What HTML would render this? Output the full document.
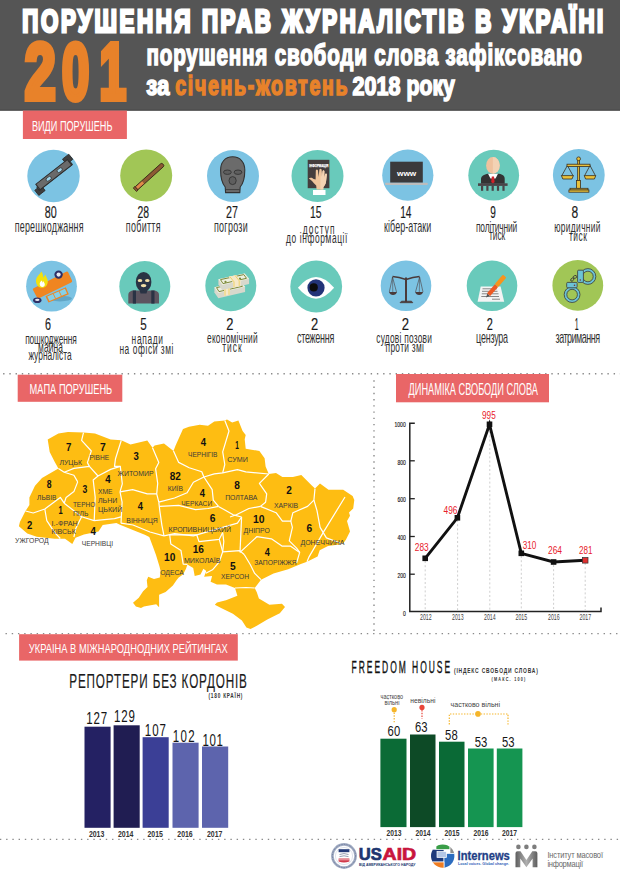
<!DOCTYPE html>
<html><head><meta charset="utf-8">
<style>
html,body{margin:0;padding:0;background:#fff;width:620px;height:877px;overflow:hidden}
svg{display:block}
text{font-family:"Liberation Sans",sans-serif}
</style></head>
<body>
<svg width="620" height="877" viewBox="0 0 620 877">
<!-- HEADER -->
<rect x="0" y="0" width="620" height="110.6" fill="#555555"/>
<rect x="0" y="109.6" width="620" height="1" fill="#474747"/>
<g font-weight="bold">
<text transform="translate(22.3,31.5) scale(0.695,1)" font-size="32.1" fill="#fff" stroke="#fff" stroke-width="3" textLength="836" lengthAdjust="spacing">ПОРУШЕННЯ ПРАВ ЖУРНАЛІСТІВ В УКРАЇНІ</text>
<g fill="#e8822a" stroke="#e8822a" stroke-width="6" font-size="78.8">
<text transform="translate(24.69,99) scale(0.706,1)">2</text>
<text transform="translate(61.93,99) scale(0.621,1)">0</text>
<text transform="translate(99.41,99) scale(0.607,1)">1</text>
</g>
<text transform="translate(146.5,65.3) scale(0.7,1)" font-size="29.5" fill="#fff" stroke="#fff" stroke-width="1.6" textLength="622" lengthAdjust="spacing">порушення свободи слова зафіксовано</text>
<text transform="translate(146.3,95.1) scale(0.8,1)" font-size="28" fill="#fff" stroke="#fff" stroke-width="1.6" textLength="29" lengthAdjust="spacingAndGlyphs">за</text>
<text transform="translate(175.3,95.1) scale(0.7,1)" font-size="28" fill="#e8822a" stroke="#e8822a" stroke-width="1.6" textLength="246" lengthAdjust="spacing">січень-жовтень</text>
<text transform="translate(352.6,95.1) scale(0.8,1)" font-size="25.9" fill="#fff" stroke="#fff" stroke-width="1.6" textLength="59.7" lengthAdjust="spacingAndGlyphs">2018</text>
<text transform="translate(406.5,95.1) scale(0.75,1)" font-size="28" fill="#fff" stroke="#fff" stroke-width="1.6" textLength="64.5" lengthAdjust="spacingAndGlyphs">року</text>
</g>

<!-- SECTION LABEL 1 -->
<rect x="22.9" y="110.6" width="104" height="28.4" fill="#e96667"/>
<text x="31.9" y="130.8" font-size="14" fill="#fff" textLength="80.5" lengthAdjust="spacingAndGlyphs">ВИДИ ПОРУШЕНЬ</text>

<!-- ICON CIRCLES -->
<circle cx="53.5" cy="176" r="26.2" fill="#7cc3e3"/>
<circle cx="146.2" cy="175.5" r="26" fill="#a1c656"/>
<circle cx="233" cy="176" r="26" fill="#7cc3e3"/>
<circle cx="317.5" cy="176" r="26" fill="#69cabb"/>
<circle cx="407.8" cy="175.2" r="25.6" fill="#7cc3e3"/>
<circle cx="493.7" cy="175.2" r="25.4" fill="#69cabb"/>
<circle cx="578.8" cy="175" r="25.9" fill="#7cc3e3"/>

<circle cx="51.5" cy="286.2" r="25.4" fill="#7cc3e3"/>
<circle cx="144.8" cy="286.5" r="25.5" fill="#69cabb"/>
<circle cx="230.8" cy="285.8" r="25.5" fill="#69cabb"/>
<circle cx="316.2" cy="286.5" r="25.9" fill="#69cabb"/>
<circle cx="406" cy="285.8" r="25.3" fill="#7cc3e3"/>
<circle cx="492" cy="285.8" r="25.3" fill="#69cabb"/>
<circle cx="577.8" cy="285.4" r="25.4" fill="#a1c656"/>

<!-- ICON NUMBERS -->
<g font-size="15.6" fill="#1a1a1a" stroke="#1a1a1a" stroke-width="0.15">
<text x="44.8" y="218" textLength="12" lengthAdjust="spacingAndGlyphs">80</text>
<text x="137.4" y="218" textLength="11.6" lengthAdjust="spacingAndGlyphs">28</text>
<text x="226.1" y="218" textLength="11.9" lengthAdjust="spacingAndGlyphs">27</text>
<text x="310" y="218" textLength="11.6" lengthAdjust="spacingAndGlyphs">15</text>
<text x="400.2" y="218" textLength="11.3" lengthAdjust="spacingAndGlyphs">14</text>
<text x="490.3" y="218" textLength="5.6" lengthAdjust="spacingAndGlyphs">9</text>
<text x="571.5" y="218" textLength="6.7" lengthAdjust="spacingAndGlyphs">8</text>

<text x="45" y="329.8" textLength="6" lengthAdjust="spacingAndGlyphs">6</text>
<text x="140.3" y="329.8" textLength="6.5" lengthAdjust="spacingAndGlyphs">5</text>
<text x="226.3" y="329.8" textLength="7.2" lengthAdjust="spacingAndGlyphs">2</text>
<text x="311" y="329.8" textLength="7.2" lengthAdjust="spacingAndGlyphs">2</text>
<text x="401.7" y="329.8" textLength="7.3" lengthAdjust="spacingAndGlyphs">2</text>
<text x="486.7" y="329.8" textLength="6.1" lengthAdjust="spacingAndGlyphs">2</text>
<text x="574.7" y="329.8" textLength="3.9" lengthAdjust="spacingAndGlyphs">1</text>
</g>

<!-- ICON LABELS -->
<g font-size="16" fill="#303030">
<text transform="translate(14.8,232.0) scale(0.56,1)" textLength="122.7" lengthAdjust="spacing">перешкоджання</text>
<text transform="translate(125.8,232.0) scale(0.56,1)" textLength="62.1" lengthAdjust="spacing">побиття</text>
<text transform="translate(214.0,232.3) scale(0.56,1)" textLength="60.2" lengthAdjust="spacing">погрози</text>
<text transform="translate(302.8,233.5) scale(0.56,1)" font-size="15" textLength="56.6" lengthAdjust="spacing">доступ</text>
<text transform="translate(286.0,242.5) scale(0.56,1)" font-size="15" textLength="109.7" lengthAdjust="spacing">до інформації</text>
<text transform="translate(384.0,232.3) scale(0.56,1)" textLength="84.5" lengthAdjust="spacing">кібер-атаки</text>
<text transform="translate(476.0,231.5) scale(0.56,1)" font-size="15" textLength="73.7" lengthAdjust="spacing">політичний</text>
<text transform="translate(489.0,240.0) scale(0.56,1)" font-size="15" textLength="29.0" lengthAdjust="spacing">тиск</text>
<text transform="translate(554.2,231.5) scale(0.56,1)" font-size="15" textLength="82.8" lengthAdjust="spacing">юридичний</text>
<text transform="translate(569.0,240.5) scale(0.56,1)" font-size="15" textLength="32.1" lengthAdjust="spacing">тиск</text>

<text transform="translate(25.2,343.5) scale(0.56,1)" font-size="15" textLength="92.1" lengthAdjust="spacing">пошкодження</text>
<text transform="translate(38.0,352.0) scale(0.56,1)" font-size="15" textLength="44.7" lengthAdjust="spacing">майна</text>
<text transform="translate(28.4,360.0) scale(0.56,1)" font-size="15" textLength="77.2" lengthAdjust="spacing">журналіста</text>
<text transform="translate(131.6,343.5) scale(0.56,1)" font-size="15" textLength="56.1" lengthAdjust="spacing">напади</text>
<text transform="translate(119.4,353.5) scale(0.56,1)" font-size="15" textLength="96.6" lengthAdjust="spacing">на офіси змі</text>
<text transform="translate(207.0,343.0) scale(0.56,1)" font-size="15" textLength="90.5" lengthAdjust="spacing">економічний</text>
<text transform="translate(222.3,352.0) scale(0.56,1)" font-size="15" textLength="34.5" lengthAdjust="spacing">тиск</text>
<text transform="translate(296.9,343.0) scale(0.56,1)" textLength="66.9" lengthAdjust="spacing">стеження</text>
<text transform="translate(376.3,343.0) scale(0.56,1)" font-size="15" textLength="99.4" lengthAdjust="spacing">судові позови</text>
<text transform="translate(385.6,352.0) scale(0.56,1)" font-size="15" textLength="68.4" lengthAdjust="spacing">проти змі</text>
<text transform="translate(476.1,343.0) scale(0.56,1)" textLength="57.1" lengthAdjust="spacing">цензура</text>
<text transform="translate(555.6,342.5) scale(0.56,1)" textLength="79.3" lengthAdjust="spacing">затримання</text>
</g>

<!-- ICONS -->
<!-- ICON 1: obstacle bar -->
<g transform="translate(53.8,174.8) rotate(-38)">
<rect x="-24.5" y="0.5" width="8" height="6.5" fill="#3e3e3e" stroke="#2a2a2a" stroke-width="0.8"/>
<rect x="16.5" y="-7" width="8" height="6.5" fill="#3e3e3e" stroke="#2a2a2a" stroke-width="0.8"/>
<path d="M-21,-0.5 L-14,-3.2 L14,-3.2 L21,-0.5 L21,3.2 L14,3.2 L-14,3.2 L-21,3.2 Z" fill="#6a6a6a" stroke="#2e2e2e" stroke-width="1"/>
<rect x="-20" y="-3.6" width="40" height="7" fill="#6a6a6a" stroke="#2e2e2e" stroke-width="1"/>
<ellipse cx="-6.5" cy="0" rx="3" ry="1.8" fill="#9fd4ea" stroke="#2e2e2e" stroke-width="0.7"/>
<ellipse cx="7.5" cy="0" rx="3" ry="1.8" fill="#9fd4ea" stroke="#2e2e2e" stroke-width="0.7"/>
</g>
<!-- ICON 2: bat -->
<g transform="translate(149,177) rotate(-42)">
<rect x="-18" y="-2" width="37" height="4" rx="1.6" fill="#8d5a33" stroke="#3a2a1a" stroke-width="0.9"/>
<rect x="-16.5" y="-1.4" width="8.5" height="2.8" fill="#e08a4a"/>
<rect x="-19" y="-2.4" width="2.2" height="4.8" fill="#8d5a33" stroke="#3a2a1a" stroke-width="0.8"/>
</g>
<!-- ICON 3: mask -->
<g stroke="#333" stroke-linejoin="round">
<path d="M232.6,156.8 C224.5,156.8 220.6,163 220.6,170 C220.6,178 221.8,183 225.2,187 L225.6,192.6 L239.8,192.6 L240.2,187 C243.6,183 244.8,178 244.8,170 C244.8,163 240.7,156.8 232.6,156.8 Z" fill="#6b6b6b" stroke-width="1.1"/>
<path d="M225.8,189.6 L239.6,189.6" stroke-width="0.8" fill="none"/>
<ellipse cx="227.4" cy="172.2" rx="3.9" ry="2.2" fill="#5e5e5e" stroke-width="0.9"/>
<ellipse cx="238" cy="172.2" rx="3.9" ry="2.2" fill="#5e5e5e" stroke-width="0.9"/>
<ellipse cx="232.6" cy="180.6" rx="3.6" ry="4" fill="#5e5e5e" stroke-width="0.9"/>
</g>
<!-- ICON 4: book + hand -->
<g>
<rect x="307.7" y="159.8" width="21.7" height="28.4" fill="#453d3d"/>
<text x="309.3" y="166.6" font-size="4" font-weight="bold" fill="#fff" stroke="#fff" stroke-width="0.25" textLength="19" lengthAdjust="spacingAndGlyphs">ІНФОРМАЦІЯ</text>
<path d="M316.6,189.5 L316.2,185.5 C314.5,184 313.2,182.6 312,181 C310.8,179.6 309.6,179 308.8,178.4 C309.6,177.6 311.2,177.4 312.6,178.2 L313.6,179 L315.6,179.6 L315.8,170.4 Q316.9,168.6 318,170.4 L318.6,177 L319.4,169.6 Q320.5,167.8 321.6,169.6 L321.8,177 L322.6,171 Q323.5,169.4 324.4,171 L324.3,177.8 L325.1,174.2 Q326,172.8 326.9,174.2 L326,182 C325.6,184.5 324.2,186 323.4,187 L323.3,189.5 Z" fill="#efc49c"/>
<path d="M320.5,189.5 L320.5,177.5 L321.6,169.6 Q320.5,167.8 321.6,169.6 L321.8,177 L322.6,171 Q323.5,169.4 324.4,171 L324.3,177.8 L325.1,174.2 Q326,172.8 326.9,174.2 L326,182 C325.6,184.5 324.2,186 323.4,187 L323.3,189.5 Z" fill="#f4d3b3"/>
<rect x="313" y="190" width="12.5" height="5" fill="#fff"/>
</g>
<!-- ICON 5: laptop -->
<g>
<rect x="390.2" y="161.7" width="32.6" height="21" fill="#3a3a3c"/>
<rect x="385" y="182.8" width="42.9" height="2.3" rx="1" fill="#bcbcbc"/>
<text x="397" y="176.1" font-size="7.2" font-weight="bold" fill="#fff" textLength="19.3" lengthAdjust="spacingAndGlyphs">www</text>
</g>
<!-- ICON 6: politician -->
<g>
<path d="M481,183.8 L481,179 C481,176 484,174.5 488,173.8 L499,173.8 C503,174.5 504.7,176 504.7,179 L504.7,183.8 Z" fill="#333"/>
<path d="M488,173.8 L498,173.8 L495.5,178.5 L490.5,178.5 Z" fill="#fff"/>
<path d="M491.8,176.5 L494,176.5 L494.6,182 L492.9,183.8 L491.2,182 Z" fill="#d3222a"/>
<ellipse cx="492.9" cy="165.4" rx="6.8" ry="8.3" fill="#efc29e"/>
<path d="M492.9,157.1 A6.8,8.3 0 0 1 492.9,173.7 Z" fill="#f3d2b4"/>
<rect x="478" y="183.3" width="29.6" height="2.6" fill="#4a4448"/>
<rect x="481" y="185.8" width="2.2" height="5" fill="#4a4448"/>
<rect x="486.3" y="185.8" width="2.2" height="5" fill="#4a4448"/>
<rect x="491.6" y="185.8" width="2.2" height="5" fill="#4a4448"/>
<rect x="496.9" y="185.8" width="2.2" height="5" fill="#4a4448"/>
<rect x="502.4" y="185.8" width="2.2" height="5" fill="#4a4448"/>
</g>
<!-- ICON 7: gold scales -->
<g stroke="#3a3020" stroke-width="0.8">
<line x1="567.4" y1="165.5" x2="561.6" y2="176" fill="none"/>
<line x1="567.4" y1="165.5" x2="573.2" y2="176" fill="none"/>
<line x1="590" y1="165.5" x2="584.4" y2="176" fill="none"/>
<line x1="590" y1="165.5" x2="595.6" y2="176" fill="none"/>
<rect x="577.7" y="160" width="1.9" height="21" fill="#e9c13a"/>
<circle cx="578.6" cy="158.8" r="1.9" fill="#e9c13a"/>
<rect x="567" y="164.2" width="23" height="2.3" fill="#e9c13a"/>
<path d="M561.4,175.6 L573.4,175.6 L572,179 L562.8,179 Z" fill="#e9c13a"/>
<path d="M584.2,175.6 L595.8,175.6 L594.4,179 L585.6,179 Z" fill="#e9c13a"/>
<rect x="576.6" y="180.4" width="4" height="8" fill="#e9c13a"/>
<rect x="570" y="188.3" width="18" height="1.8" fill="#e9c13a"/>
<rect x="568.9" y="190" width="20" height="2.2" fill="#e9c13a"/>
</g>

<!-- ROW 2 -->
<!-- ICON 8: car -->
<g>
<ellipse cx="60" cy="298.6" rx="12" ry="2.8" fill="#62a6c6"/>
<path d="M45.5,296.2 L65.8,287.2 L68.8,294.2 L48.5,302.6 Z" fill="#f08521"/>
<path d="M47.3,296.6 L64.9,288.8 L67.1,293.6 L49.5,301 Z" fill="#86d0e8"/>
<line x1="53.2" y1="293.6" x2="55.6" y2="298.7" stroke="#f08521" stroke-width="0.9"/>
<line x1="59" y1="291" x2="61.4" y2="296.2" stroke="#f08521" stroke-width="0.9"/>
<path d="M33.6,288.2 L66.2,271.8 Q67.6,271.2 68.3,272.5 L72,280.4 Q72.6,281.8 71.2,282.5 L39,298.2 Q37.6,298.8 37,297.5 L32.9,289.8 Q32.4,288.8 33.6,288.2 Z" fill="#f08521"/>
<circle cx="58.6" cy="274.6" r="4.2" fill="#2e2f66"/>
<circle cx="58.6" cy="274.6" r="2.1" fill="#e8e8f0"/>
<ellipse cx="37.3" cy="300.3" rx="4.2" ry="2.8" fill="#2e2f66"/>
<ellipse cx="37.3" cy="299.9" rx="2.2" ry="1.1" fill="#e8e8f0"/>
<path d="M41.6,271.5 C39,275 35.8,277 36,281.5 C36.2,285.2 38.8,287.8 42,287.8 C45.6,287.8 47.8,284.8 47.8,281.5 C47.8,278 45.8,277 45.6,274.5 C44.2,276 43.6,277 43.1,277.5 C43.1,275 42.6,273.5 41.6,271.5 Z" fill="#f2e10e"/>
<path d="M41.8,280.5 C40,282 39.5,283 39.8,284.8 C40.2,286.3 41.2,287 42.3,287 C43.8,287 44.8,285.8 44.8,284.5 C44.8,283 43.8,282.5 43.5,281 C43,282 42.8,282.5 42.6,282.8 C42.5,281.8 42.2,281 41.8,280.5 Z" fill="#fff"/>
</g>
<!-- ICON 9: robber -->
<g>
<path d="M128.3,303.6 L128.3,295 C128.3,292 130.5,290.5 134,290.5 L153.3,290.5 C156.8,290.5 159,292 159,295 L159,303.6 Z" fill="#5d5560"/>
<rect x="132.8" y="290.5" width="3.2" height="13.1" fill="#2a3344"/>
<rect x="151.3" y="290.5" width="3.2" height="13.1" fill="#2a3344"/>
<path d="M139,288 L148,288 L146.5,293.5 L140.5,293.5 Z" fill="#2a3344"/>
<ellipse cx="143.6" cy="281.9" rx="7.8" ry="10" fill="#2a3344"/>
<ellipse cx="140" cy="280.6" rx="2.3" ry="1.5" fill="#f4e0a8"/>
<ellipse cx="147.3" cy="280.6" rx="2.3" ry="1.5" fill="#f4e0a8"/>
<ellipse cx="143.6" cy="285.6" rx="2.8" ry="1.6" fill="#f4e0a8"/>
</g>
<!-- ICON 10: money -->
<g>
<path d="M214.4,287.2 L240.6,281.4 L245.1,286.8 L245.1,292 L218.4,298.3 L214.4,292.5 Z" fill="#d8d8cc"/>
<path d="M214.4,287.2 L240.6,281.4 L245.1,286.8 L218.4,293.1 Z" fill="#eef0e0"/>
<path d="M216.5,287.6 L239.8,282.6 L242.5,286.3 L219,291.6 Z" fill="none" stroke="#7d8a3a" stroke-width="1"/>
<path d="M218.4,279.2 L244.6,273.4 L249.1,278.8 L249.1,284 L222.4,290.3 L218.4,284.5 Z" fill="#d8d8cc"/>
<path d="M218.4,279.2 L244.6,273.4 L249.1,278.8 L222.4,285.1 Z" fill="#eef0e0"/>
<path d="M220.5,279.6 L243.8,274.6 L246.5,278.3 L223,283.6 Z" fill="none" stroke="#7d8a3a" stroke-width="1"/>
<path d="M228.5,276.8 L236,275.2 L240.5,280.6 L233,282.4 L233,287.6 L240.5,285.8 L240.5,280.6 Z" fill="#f6e8c8"/>
<path d="M228.5,276.8 L236,275.2 L240.5,280.6 L240.5,285.8 L233,287.6 L233,282.4 Z" fill="#f6e8c8"/>
<path d="M229.8,276.6 L234,281.8 L234,287.3 M235,275.4 L239.2,280.8 L239.2,286" stroke="#ecd060" stroke-width="0.9" fill="none"/>
<path d="M224,289.5 L230,288.2 L230,294.6 L224,296 Z" fill="#f6e8c8"/>
<path d="M225,289.3 L225,295.7 M229,288.4 L229,294.8" stroke="#ecd060" stroke-width="0.9"/>
<circle cx="240" cy="278.6" r="1.1" fill="#7d8a3a"/>
<circle cx="225.5" cy="281.8" r="1.1" fill="#7d8a3a"/>
</g>
<!-- ICON 11: eye -->
<g>
<path d="M297.9,287.8 Q316,266 334.1,287.8 Q316,309.5 297.9,287.8 Z" fill="#fff"/>
<circle cx="316" cy="287.8" r="8.6" fill="#233478"/>
<circle cx="313.7" cy="287.4" r="4.1" fill="#0c0c0c"/>
</g>
<!-- ICON 12: dark scales -->
<g stroke="#4a3a3a" fill="none">
<path d="M392.5,276.5 Q399,277 406,279.4 Q413,277 419.6,276.5" stroke-width="1.6"/>
<line x1="406" y1="277.5" x2="406" y2="302" stroke-width="2"/>
<line x1="392.5" y1="277" x2="389.3" y2="292" stroke-width="0.6"/>
<line x1="392.5" y1="277" x2="396.5" y2="292" stroke-width="0.6"/>
<line x1="392.5" y1="277" x2="392.8" y2="292" stroke-width="0.5"/>
<line x1="419.6" y1="277" x2="415.5" y2="292" stroke-width="0.6"/>
<line x1="419.6" y1="277" x2="423" y2="292" stroke-width="0.6"/>
<line x1="419.6" y1="277" x2="419.3" y2="292" stroke-width="0.5"/>
<path d="M389,292 L397,292 Q396,295 393,295 Q390,295 389,292 Z" fill="#4a3a3a" stroke="none"/>
<path d="M415.1,292 L423.1,292 Q422.1,295 419.1,295 Q416.1,295 415.1,292 Z" fill="#4a3a3a" stroke="none"/>
<path d="M400,302.7 L401.5,301.2 L411.5,301.2 L412.8,302.7 Z" fill="#4a3a3a" stroke="#4a3a3a" stroke-width="0.8"/>
</g>
<!-- ICON 13: paper + pen -->
<g>
<path d="M480.7,286.5 L500.6,286.5 L504.2,301.8 L477.6,301.8 Z" fill="#f4f4f4"/>
<g stroke="#7a7a7a" stroke-width="0.9">
<line x1="482.5" y1="288.8" x2="497" y2="288.8"/>
<line x1="482" y1="291.3" x2="497.5" y2="291.3"/>
<line x1="481.8" y1="293.8" x2="498.5" y2="293.8"/>
<line x1="481.3" y1="296.5" x2="499" y2="296.5"/>
<line x1="492" y1="299.2" x2="500" y2="299.2"/>
</g>
<g transform="translate(486,297.6) rotate(-49)">
<path d="M0,0 L4,-1.6 L4,1.6 Z" fill="#555"/>
<rect x="4" y="-2.1" width="12" height="4.2" fill="#ee5a24"/>
<rect x="16" y="-2.3" width="12.5" height="4.6" rx="1" fill="#f7941d"/>
</g>
</g>
<!-- ICON 14: handcuffs -->
<g stroke="#3a3a3a" stroke-width="0.8">
<ellipse cx="572.2" cy="279.6" rx="1.3" ry="1.8" transform="rotate(40 572.2 279.6)" fill="none" stroke-width="0.9"/>
<ellipse cx="575" cy="276.9" rx="1.9" ry="1.3" transform="rotate(-20 575 276.9)" fill="none" stroke-width="0.9"/>
<circle cx="572.1" cy="294.6" r="6.6" fill="none" stroke="#6cc3d6" stroke-width="2.6"/>
<circle cx="572.1" cy="294.6" r="7.9" fill="none"/>
<circle cx="572.1" cy="294.6" r="5.3" fill="none"/>
<rect x="566.7" y="282.4" width="10.4" height="5.4" rx="1" fill="#6cc3d6"/>
<circle cx="587.9" cy="276.5" r="6.6" fill="none" stroke="#6cc3d6" stroke-width="2.6"/>
<circle cx="587.9" cy="276.5" r="7.9" fill="none"/>
<circle cx="587.9" cy="276.5" r="5.3" fill="none"/>
<rect x="577.6" y="270.2" width="5.8" height="12.2" rx="1" fill="#6cc3d6"/>
<circle cx="574.5" cy="285.2" r="0.8" fill="#7a3030" stroke="none"/>
<circle cx="580.3" cy="280" r="0.8" fill="#7a3030" stroke="none"/>
</g>


<!-- DOTTED LINES -->
<g stroke="#8a8a8a" stroke-width="1.4" stroke-dasharray="1.4 4.83">
<line x1="3.1" y1="373.8" x2="620" y2="373.8"/>
<line x1="374" y1="380.3" x2="374" y2="632"/>
<line x1="5.5" y1="633.6" x2="620" y2="633.6"/>
<line x1="-0.1" y1="839.4" x2="620" y2="839.4"/>
</g>

<!-- SECTION LABEL 2 -->
<rect x="17.7" y="374.7" width="104.6" height="27.1" fill="#e96667"/>
<text x="29.6" y="393.8" font-size="14.2" fill="#fff" textLength="82.6" lengthAdjust="spacingAndGlyphs">МАПА ПОРУШЕНЬ</text>
<rect x="396" y="374" width="153" height="28.3" fill="#e96667"/>
<text x="408.6" y="394.6" font-size="16.7" fill="#fff" textLength="129.4" lengthAdjust="spacingAndGlyphs">ДИНАМІКА СВОБОДИ СЛОВА</text>

<!-- MAP -->
<g>
<path fill="#febd12" d="M47.7,439.4 L58.4,433.5 L68,432 L83.5,432.6 L95,433.5 L110.6,439.4 L121.3,440.3 L130.5,444.6 L147.3,440.4 L152.5,447.7 L154.6,445.6 L164,443.5 L173.5,451 L175.6,445.6 L183,428.9 L189,426.8 L199.7,424.7 L208,425.7 L214.3,421.5 L224.8,420.5 L227,419.4 L232.2,422.6 L238.4,420.5 L242.6,431 L245.7,435 L244.7,439.3 L245.7,448.8 L259.4,450.9 L264.6,458.2 L265.6,466.6 L268.8,474 L276,472.9 L282.4,477 L292.9,477 L301.3,475 L311.8,485.5 L315,488.6 L320,483.4 L328.5,489.7 L343.2,489.7 L352.6,496 L354.3,500 L353.2,508.4 L349,512.6 L350,515.7 L347,521 L350,531.4 L345.9,539.8 L342.7,544 L328,546 L319.7,550.3 L317.6,556.6 L307,561.8 L300.8,564 L288.2,569.2 L273.5,573.4 L261,579.7 L257.8,583.9 L254.7,588 L256.8,592.2 L258.9,598.5 L269.4,604.8 L282,603.8 L285,607 L279.8,613.2 L267.3,619.5 L256.8,625.8 L250.5,629 L246.4,627.4 L241.9,620.6 L232.9,613.8 L221.6,608.2 L214.8,604.8 L217,602.6 L226,600.3 L237.4,595.8 L235,588 L226,584.5 L217,584.5 L210.6,581.8 L212.1,576 L204.1,576.7 L206.3,570.9 L203.4,568.7 L200.5,574.5 L194.7,576 L193.2,568 L187.4,564.4 L186,568.7 L183,574.5 L178.7,577.4 L176.5,580.3 L172.9,585.4 L165.6,591.9 L159.1,594.8 L159.1,607.2 L156.2,604.3 L143.9,606.5 L141,607.9 L135.9,606.5 L133,602.8 L138.8,597.7 L143.1,591.2 L147.5,586.9 L146.8,580.3 L148.2,576.7 L154,578.9 L159.8,577.4 L160.6,571 L159.5,566.4 L156,555 L152.7,546 L149.3,537 L144.8,534.8 L133.5,530.3 L120,524.7 L116.4,523 L102.7,525 L98.5,531.4 L83.9,534.6 L75.5,537.7 L72.3,544 L65,538.8 L54.5,538.8 L36.7,536.7 L27.3,533.5 L18.9,526.2 L19.9,522 L25.5,511 L29.4,505 L29.4,497.4 L35,485.8 L42,478 L58.4,468.4 L54.5,461.6 L49.7,452 Z"/>
<g fill="none" stroke="#fff" stroke-width="1.2" stroke-linejoin="round">
<!-- Volyn/Rivne -->
<path d="M83.5,432.6 L81.6,440.3 L91.3,451 L87.4,462.6 L89.4,466.4"/>
<!-- Volyn/Lviv + Rivne south -->
<path d="M58.4,468.4 L64.2,472.3 L73.9,475.2 L77.7,481.9"/>
<path d="M64.2,472.3 L73.9,468.4 L89.4,466.4 L98,476 L110.6,469.4 L120.3,466.4"/>
<!-- Rivne/Zhytomyr -->
<path d="M121.3,440.3 L115.5,458.7 L114.5,466.4 L120.3,466.4 L122.3,483.9 L120,491.8"/>
<!-- Lviv/Ternopil -->
<path d="M77.7,481.9 L73.9,491.6 L66.1,497.4 L64.2,503.2"/>
<!-- Ternopil/Khmelnytskyi -->
<path d="M98,476 L93.2,480 L95.2,497.4 L94.2,520.6"/>
<!-- Lviv/IF & Zakarpattia -->
<path d="M25.5,511 L33.2,513 L44.8,509 L60.3,497.4 L64.2,503.2"/>
<path d="M44.8,509 L46.8,520.6 L54.5,532.3 L60.3,538.5"/>
<!-- IF/Ternopil/Chernivtsi -->
<path d="M64.2,503.2 L81.6,516.8 L75.8,528.4 L73.9,537"/>
<path d="M81.6,516.8 L94.2,520.6 L114.5,518.7 L121,516.8"/>
<!-- Khmelnytskyi/Vinnytsia -->
<path d="M120,491.8 L122.1,502.2 L121,523.2"/>
<!-- Zhytomyr/Kyiv -->
<path d="M152.5,447.7 L158.8,462.4 L155.6,468.7 L157.7,483.4 L156.7,493.9 L158.8,502.2"/>
<!-- Zhytomyr/Vinnytsia -->
<path d="M120,491.8 L132.6,489.7 L147.3,493.9 L156.7,493.9"/>
<!-- Kyiv/Chernihiv -->
<path d="M173.5,451 L178.7,462.4 L189.2,467.7 L201.8,471.8 L203.9,477"/>
<!-- Chernihiv/Sumy -->
<path d="M224.8,420.5 L229,431 L222.7,451.9 L224.8,464.5 L222.7,472.9"/>
<!-- Chernihiv/Poltava, Sumy/Poltava -->
<path d="M203.9,477 L214.3,473.9 L222.7,472.9 L237.4,469.7 L245.8,471.8 L268.8,474"/>
<!-- Kyiv/Cherkasy -->
<path d="M158.8,502.2 L174.5,498 L187.1,492.8 L193.4,482.3 L203.9,477"/>
<!-- Cherkasy/Poltava -->
<path d="M203.9,477 L212.2,489.7 L213.3,500.1 L218.5,506.4"/>
<!-- Vinnytsia east -->
<path d="M158.8,502.2 L159.8,510.6 L161.9,525.3 L164,535.8"/>
<!-- Cherkasy/Kirovohrad -->
<path d="M159.8,506.4 L178.7,505.4 L195.5,509.6 L208,508.5 L218.5,506.4"/>
<!-- Kirovohrad/Poltava-Dnipro -->
<path d="M218.5,506.4 L233.2,514.8 L241.6,517"/>
<!-- Vinnytsia/Odesa -->
<path d="M121,523.2 L133,525 L150,532 L164,535.8"/>
<!-- Kirovohrad south -->
<path d="M164,535.8 L174.5,533.7 L193.4,535.8 L208,531.6 L222.7,527.4 L237.4,523.2 L241.6,517"/>
<!-- Poltava/Kharkiv -->
<path d="M268.8,474 L259.4,483.4 L266.7,493.9 L265.6,502.2 L260.4,506.4"/>
<!-- Poltava/Dnipro -->
<path d="M260.4,506.4 L248.9,508.5 L236.3,514.8 L230,517"/>
<!-- Kharkiv/Donetsk-Luhansk -->
<path d="M315,488.6 L313.9,500.1 L307.6,506.4 L292.9,512.7 L290.8,521.1"/>
<!-- Kharkiv/Dnipro -->
<path d="M260.4,506.4 L276.1,512.7 L282.4,521.1 L290.8,521.1 L292.4,527.3 L289.3,540.9 L296.6,548.2 L299.7,552.4"/>
<!-- Donetsk/Luhansk -->
<path d="M313.9,500.1 L317,510.6 L320.1,527.4 L326.4,537.9 L342.7,544"/>
<!-- contact line -->
<path d="M345,497 L323.9,531.4 L309.2,556.6 L307,561.8"/>
<!-- Dnipro/Zaporizhzhia -->
<path d="M240,552.4 L256.8,536.7 L271.4,538.8 L281.9,546.1 L290.3,546.1 L299.7,552.4 L296.6,562.9"/>
<!-- Zaporizhzhia/Kherson -->
<path d="M244.2,554.5 L250.5,565 L254.7,573.4 L261,579.7"/>
<!-- Kherson/Crimea -->
<path d="M235,588 L246,587.5 L254.7,588"/>
<!-- Odesa/Mykolaiv -->
<path d="M169.7,534.8 L170.8,543.9 L181,550.6 L183.2,564.2 L187.4,564.4"/>
<!-- Mykolaiv/Kirovohrad -->
<path d="M169.7,534.8 L196.7,534.8 L199,541.6 L219.3,539.3 L222.7,532.6"/>
<!-- Mykolaiv/Kherson -->
<path d="M219.3,539.3 L222.7,551.8 L219.3,561.9 L212.5,569.8 L205.8,573.2"/>
<!-- Dnipro/Kherson -->
<path d="M222.7,551.8 L239.6,550.6 L244.2,554.5"/>
<path d="M222.7,532.6 L223.8,541.6 L222.7,551.8"/>
<path d="M241.6,517 L240,552.4"/>
</g>
<!-- map numbers -->
<g font-weight="bold" font-size="10.7" fill="#111">
<text x="66.1" y="451.4" textLength="5.4" lengthAdjust="spacingAndGlyphs">7</text>
<text x="100" y="451.4" textLength="5.8" lengthAdjust="spacingAndGlyphs">7</text>
<text x="46.8" y="487.7" textLength="4.8" lengthAdjust="spacingAndGlyphs">8</text>
<text x="82.6" y="493.2" textLength="4.8" lengthAdjust="spacingAndGlyphs">3</text>
<text x="105.2" y="482.9" textLength="5.4" lengthAdjust="spacingAndGlyphs">4</text>
<text x="58.4" y="513.9" textLength="4.2" lengthAdjust="spacingAndGlyphs">1</text>
<text x="27" y="528.8" textLength="5.3" lengthAdjust="spacingAndGlyphs">2</text>
<text x="90.6" y="534.6" textLength="5.4" lengthAdjust="spacingAndGlyphs">4</text>
<text x="133.6" y="459.9" textLength="5.3" lengthAdjust="spacingAndGlyphs">3</text>
<text x="169.7" y="480.2" textLength="11.1" lengthAdjust="spacingAndGlyphs">82</text>
<text x="200.7" y="445.6" textLength="5.3" lengthAdjust="spacingAndGlyphs">4</text>
<text x="235.3" y="448.8" textLength="3.6" lengthAdjust="spacingAndGlyphs">1</text>
<text x="137.8" y="509.6" textLength="5.2" lengthAdjust="spacingAndGlyphs">4</text>
<text x="199.7" y="497" textLength="5.2" lengthAdjust="spacingAndGlyphs">4</text>
<text x="234.3" y="489.2" textLength="5.6" lengthAdjust="spacingAndGlyphs">8</text>
<text x="209.7" y="521.7" textLength="5.7" lengthAdjust="spacingAndGlyphs">6</text>
<text x="286.2" y="493.9" textLength="5.6" lengthAdjust="spacingAndGlyphs">2</text>
<text x="253" y="522.8" textLength="11.6" lengthAdjust="spacingAndGlyphs">10</text>
<text x="306.5" y="532.2" textLength="5.7" lengthAdjust="spacingAndGlyphs">6</text>
<text x="264.7" y="556.2" textLength="5.1" lengthAdjust="spacingAndGlyphs">4</text>
<text x="164" y="560.8" textLength="11.3" lengthAdjust="spacingAndGlyphs">10</text>
<text x="192.7" y="553.3" textLength="11.3" lengthAdjust="spacingAndGlyphs">16</text>
<text x="229.9" y="569.8" textLength="5.7" lengthAdjust="spacingAndGlyphs">5</text>
</g>
<g font-size="7.8" fill="#3a3a3a">
<text x="59.4" y="464.5" textLength="22.6" lengthAdjust="spacingAndGlyphs">ЛУЦЬК</text>
<text x="89.4" y="460.3" textLength="19.7" lengthAdjust="spacingAndGlyphs">РІВНЕ</text>
<text x="37.1" y="499.7" textLength="19.3" lengthAdjust="spacingAndGlyphs">ЛЬВІВ</text>
<text x="72.9" y="507.1" textLength="22.3" lengthAdjust="spacingAndGlyphs">ТЕРНО</text>
<text x="72.9" y="516.4" textLength="15.5" lengthAdjust="spacingAndGlyphs">ПІЛЬ</text>
<text x="98" y="493.5" textLength="14.6" lengthAdjust="spacingAndGlyphs">ХМЕ</text>
<text x="98" y="502.8" textLength="19.4" lengthAdjust="spacingAndGlyphs">ЛЬНИ</text>
<text x="98" y="511.9" textLength="24.3" lengthAdjust="spacingAndGlyphs">ЦЬКИЙ</text>
<text x="51.6" y="525.5" textLength="26.1" lengthAdjust="spacingAndGlyphs">І.-ФРАН</text>
<text x="51.6" y="534.2" textLength="24.2" lengthAdjust="spacingAndGlyphs">КІВСЬК</text>
<text x="15.1" y="543" textLength="33.5" lengthAdjust="spacingAndGlyphs">УЖГОРОД</text>
<text x="81.8" y="546" textLength="31.2" lengthAdjust="spacingAndGlyphs">ЧЕРНІВЦІ</text>
<text x="117.6" y="475.6" textLength="35.9" lengthAdjust="spacingAndGlyphs">ЖИТОМИР</text>
<text x="167.8" y="490.7" textLength="15.1" lengthAdjust="spacingAndGlyphs">КИЇВ</text>
<text x="188.1" y="456.5" textLength="29.4" lengthAdjust="spacingAndGlyphs">ЧЕРНІГІВ</text>
<text x="227.3" y="462.4" textLength="20.6" lengthAdjust="spacingAndGlyphs">СУМИ</text>
<text x="126.3" y="523.2" textLength="31.4" lengthAdjust="spacingAndGlyphs">ВІННИЦЯ</text>
<text x="181.2" y="506.4" textLength="31" lengthAdjust="spacingAndGlyphs">ЧЕРКАСИ</text>
<text x="225.2" y="500.1" textLength="32.1" lengthAdjust="spacingAndGlyphs">ПОЛТАВА</text>
<text x="168.6" y="531.6" textLength="62.5" lengthAdjust="spacingAndGlyphs">КРОПИВНИЦЬКИЙ</text>
<text x="274" y="507.5" textLength="24.1" lengthAdjust="spacingAndGlyphs">ХАРКІВ</text>
<text x="243.6" y="532.6" textLength="26.2" lengthAdjust="spacingAndGlyphs">ДНІПРО</text>
<text x="300.4" y="545" textLength="44" lengthAdjust="spacingAndGlyphs">ДОНЕЧЧИНА</text>
<text x="254.3" y="565.4" textLength="42.3" lengthAdjust="spacingAndGlyphs">ЗАПОРІЖЖЯ</text>
<text x="160.2" y="575" textLength="23.7" lengthAdjust="spacingAndGlyphs">ОДЕСА</text>
<text x="183.9" y="563" textLength="36.6" lengthAdjust="spacingAndGlyphs">МИКОЛАЇВ</text>
<text x="221.1" y="578.8" textLength="28" lengthAdjust="spacingAndGlyphs">ХЕРСОН</text>
</g>
</g>


<!-- LINE CHART -->
<g>
<g stroke="#c8c8c8" stroke-width="0.9" stroke-dasharray="2 2.2">
<line x1="425.2" y1="561" x2="425.2" y2="610"/>
<line x1="457.6" y1="520" x2="457.6" y2="610"/>
<line x1="489.8" y1="427" x2="489.8" y2="610"/>
<line x1="521.3" y1="556" x2="521.3" y2="610"/>
<line x1="553.6" y1="565" x2="553.6" y2="610"/>
<line x1="585.2" y1="563" x2="585.2" y2="610"/>
</g>
<path d="M414.8,423.2 L409.8,423.2 L409.8,611.5 L601,611.5 L601,607.5" fill="none" stroke="#222" stroke-width="1.5"/>
<g stroke="#222" stroke-width="1.3">
<line x1="409.8" y1="460.8" x2="414.8" y2="460.8"/>
<line x1="409.8" y1="498.7" x2="414.8" y2="498.7"/>
<line x1="409.8" y1="536.5" x2="414.8" y2="536.5"/>
<line x1="409.8" y1="574.2" x2="414.8" y2="574.2"/>
</g>
<polyline points="425.2,558.3 457.4,517.8 489.5,424.3 521.3,553.3 553.6,562 585.2,560.3" fill="none" stroke="#111" stroke-width="2.9" stroke-linejoin="miter"/>
<rect x="422.4" y="555.5" width="5.6" height="5.6" fill="#111"/>
<rect x="454.6" y="515" width="5.6" height="5.6" fill="#111"/>
<rect x="486.7" y="421.5" width="5.6" height="5.6" fill="#111"/>
<rect x="518.5" y="550.5" width="5.6" height="5.6" fill="#111"/>
<rect x="550.8" y="559.2" width="5.6" height="5.6" fill="#111"/>
<rect x="582.4" y="557.5" width="5.6" height="5.6" fill="#e03030" stroke="#333" stroke-width="0.7"/>
<g font-size="7.8" fill="#111" stroke="#111" stroke-width="0.15">
<text x="394.5" y="427" textLength="11.2" lengthAdjust="spacingAndGlyphs">1000</text>
<text x="397.5" y="464.5" textLength="8.4" lengthAdjust="spacingAndGlyphs">800</text>
<text x="397.5" y="502.4" textLength="8.4" lengthAdjust="spacingAndGlyphs">600</text>
<text x="397.5" y="540.2" textLength="8.4" lengthAdjust="spacingAndGlyphs">400</text>
<text x="397.5" y="577.9" textLength="8.4" lengthAdjust="spacingAndGlyphs">200</text>
<text x="403" y="615.8" textLength="2.8" lengthAdjust="spacingAndGlyphs">0</text>
</g>
<g font-size="8.5" fill="#444">
<text x="420" y="620.3" textLength="11.6" lengthAdjust="spacingAndGlyphs">2012</text>
<text x="452" y="620.3" textLength="11.6" lengthAdjust="spacingAndGlyphs">2013</text>
<text x="484" y="620.3" textLength="11.6" lengthAdjust="spacingAndGlyphs">2014</text>
<text x="515.5" y="620.3" textLength="11.6" lengthAdjust="spacingAndGlyphs">2015</text>
<text x="548" y="620.3" textLength="11.6" lengthAdjust="spacingAndGlyphs">2016</text>
<text x="579.5" y="620.3" textLength="11.6" lengthAdjust="spacingAndGlyphs">2017</text>
</g>
<g font-size="11.5" fill="#e8202a">
<text x="414.8" y="551.4" textLength="13.9" lengthAdjust="spacingAndGlyphs">283</text>
<text x="443.5" y="514.2" textLength="13.9" lengthAdjust="spacingAndGlyphs">496</text>
<text x="482" y="418.8" textLength="13.7" lengthAdjust="spacingAndGlyphs">995</text>
<text x="522.8" y="549" textLength="13.6" lengthAdjust="spacingAndGlyphs">310</text>
<text x="548" y="554.4" textLength="14" lengthAdjust="spacingAndGlyphs">264</text>
<text x="579" y="554.4" textLength="13.5" lengthAdjust="spacingAndGlyphs">281</text>
</g>
</g>


<!-- SECTION LABEL 3 -->
<rect x="19.1" y="634.2" width="218.7" height="26.4" fill="#e96667"/>
<text x="28.8" y="652.5" font-size="13.4" fill="#fff" textLength="198.8" lengthAdjust="spacingAndGlyphs">УКРАІНА В МІЖНАРОДНОДНИХ РЕЙТИНГАХ</text>

<!-- RSF BARS -->
<g>
<text transform="translate(69.3,688.3) scale(0.6,1)" font-size="19.5" fill="#1a1a1a" stroke="#1a1a1a" stroke-width="0.2" textLength="296" lengthAdjust="spacing">РЕПОРТЕРИ БЕЗ КОРДОНІВ</text>
<text transform="translate(208.5,698.2) scale(0.7,1)" font-size="6.8" font-weight="bold" fill="#333" textLength="48.5" lengthAdjust="spacing">(180 КРАЇН)</text>
<rect x="84.5" y="726.7" width="26.1" height="101.1" fill="#242163"/>
<rect x="113.6" y="725.3" width="26.1" height="102.5" fill="#201d52"/>
<rect x="142.6" y="737.2" width="26.1" height="90.6" fill="#3b3f96"/>
<rect x="172.5" y="742.7" width="26.1" height="85.1" fill="#5d64ad"/>
<rect x="202" y="746.5" width="26.2" height="81.3" fill="#5d64ad"/>
<g font-size="16" fill="#151515">
<text transform="translate(86.3,724.4) scale(0.72,1)" textLength="29" lengthAdjust="spacing">127</text>
<text transform="translate(114.1,722) scale(0.72,1)" textLength="29" lengthAdjust="spacing">129</text>
<text transform="translate(144.8,736.3) scale(0.72,1)" textLength="29.5" lengthAdjust="spacing">107</text>
<text transform="translate(172.8,742) scale(0.72,1)" textLength="30.5" lengthAdjust="spacing">102</text>
<text transform="translate(202.4,745.6) scale(0.72,1)" textLength="28.5" lengthAdjust="spacing">101</text>
</g>
<g font-size="9" font-weight="bold" fill="#333">
<text x="88.9" y="836.5" textLength="15.4" lengthAdjust="spacingAndGlyphs">2013</text>
<text x="118" y="836.5" textLength="15.4" lengthAdjust="spacingAndGlyphs">2014</text>
<text x="147.5" y="836.5" textLength="15.4" lengthAdjust="spacingAndGlyphs">2015</text>
<text x="177.3" y="836.5" textLength="15.4" lengthAdjust="spacingAndGlyphs">2016</text>
<text x="207" y="836.5" textLength="15.4" lengthAdjust="spacingAndGlyphs">2017</text>
</g>
</g>
<!-- FREEDOM HOUSE -->
<g>
<text transform="translate(351.6,672.9) scale(0.5,1)" font-size="17" fill="#111" stroke="#111" stroke-width="0.35" textLength="197" lengthAdjust="spacing">FREEDOM HOUSE</text>
<text transform="translate(454,672.7) scale(0.65,1)" font-size="7.6" font-weight="bold" fill="#333" textLength="129" lengthAdjust="spacing">(ІНДЕКС СВОБОДИ СЛОВА)</text>
<text transform="translate(491.5,680.8) scale(0.65,1)" font-size="5.8" font-weight="bold" fill="#333" textLength="52" lengthAdjust="spacing">(МАКС. 100)</text>
<g font-size="6.5" fill="#444">
<text x="380.6" y="698.5" textLength="22.4" lengthAdjust="spacingAndGlyphs">частково</text>
<text x="384.5" y="704.8" textLength="15" lengthAdjust="spacingAndGlyphs">вільні</text>
<text x="410.3" y="703.2" textLength="25.2" lengthAdjust="spacingAndGlyphs">невільні</text>
<text x="450.6" y="707.4" textLength="49.4" lengthAdjust="spacingAndGlyphs">частково вільні</text>
</g>
<g stroke="#f5b52a" stroke-width="1.2" stroke-dasharray="1.4 1.4" fill="none">
<line x1="394.2" y1="712.5" x2="394.2" y2="723"/>
<path d="M449.3,724.5 L449.3,714 L508,714 L508,724.5"/>
</g>
<line x1="422" y1="710" x2="422" y2="719" stroke="#e8453a" stroke-width="1.2" stroke-dasharray="1.4 1.4"/>
<circle cx="394.2" cy="709.7" r="2.6" fill="#f5b52a"/>
<circle cx="422" cy="707.4" r="2.6" fill="#e8453a"/>
<circle cx="478" cy="713.9" r="2.8" fill="#f5b52a"/>
<rect x="380.4" y="738.7" width="26.1" height="88.4" fill="#0b6b36"/>
<rect x="410" y="734.5" width="25.5" height="92.6" fill="#0d4a26"/>
<rect x="439" y="741.7" width="25.5" height="85.4" fill="#0a6a36"/>
<rect x="468" y="748.5" width="25.6" height="78.6" fill="#159551"/>
<rect x="496.8" y="748.5" width="25.6" height="78.6" fill="#159551"/>
<g font-size="15" fill="#151515">
<text transform="translate(387.6,736.3) scale(0.75,1)" textLength="16.8" lengthAdjust="spacing">60</text>
<text transform="translate(414.9,732) scale(0.75,1)" textLength="16.8" lengthAdjust="spacing">63</text>
<text transform="translate(445.1,739.7) scale(0.75,1)" textLength="16.8" lengthAdjust="spacing">58</text>
<text transform="translate(474.7,746.5) scale(0.75,1)" textLength="16.8" lengthAdjust="spacing">53</text>
<text transform="translate(502,746.5) scale(0.75,1)" textLength="16.8" lengthAdjust="spacing">53</text>
</g>
<g font-size="8.5" font-weight="bold" fill="#333">
<text x="386.5" y="835.8" textLength="15" lengthAdjust="spacingAndGlyphs">2013</text>
<text x="415.5" y="835.8" textLength="15" lengthAdjust="spacingAndGlyphs">2014</text>
<text x="444.5" y="835.8" textLength="15" lengthAdjust="spacingAndGlyphs">2015</text>
<text x="473.5" y="835.8" textLength="15" lengthAdjust="spacingAndGlyphs">2016</text>
<text x="502" y="835.8" textLength="15" lengthAdjust="spacingAndGlyphs">2017</text>
</g>
</g>


<!-- LOGOS -->
<g>
<circle cx="344" cy="856" r="11.6" fill="#fff" stroke="#a4aec4" stroke-width="2.6"/>
<circle cx="344" cy="856" r="11.6" fill="none" stroke="#5a6a90" stroke-width="0.9" stroke-dasharray="0.8 0.9"/>
<circle cx="344" cy="856" r="8.6" fill="#fff" stroke="#c8cede" stroke-width="0.6"/>
<path d="M338.6,849.2 L349.4,849.2 L349.4,852.2 L338.6,852.2 Z" fill="#233a78"/>
<path d="M339.5,854.5 Q344,852.6 348.5,854.5 M339.5,856.6 Q344,855 348.5,856.6" stroke="#8a93a8" stroke-width="0.9" fill="none"/>
<path d="M338.6,858.6 L349.4,858.6 L349.4,861.6 Q344,863.6 338.6,861.6 Z" fill="#d23a4a"/>
<path d="M338.6,859.8 L349.4,859.8" stroke="#fff" stroke-width="0.6"/>
<text x="358.8" y="859.8" font-size="16.6" font-weight="bold" fill="#20356f" stroke="#20356f" stroke-width="0.7" textLength="23" lengthAdjust="spacingAndGlyphs">US</text>
<text x="382.6" y="859.8" font-size="16.6" font-weight="bold" fill="#c8153d" stroke="#c8153d" stroke-width="0.7" textLength="33.6" lengthAdjust="spacingAndGlyphs">AID</text>
<text x="359" y="866" font-size="4" font-weight="bold" fill="#20356f" textLength="56.5" lengthAdjust="spacingAndGlyphs">ВІД АМЕРИКАНСЬКОГО НАРОДУ</text>
<!-- internews -->
<defs><clipPath id="inc"><circle cx="442.7" cy="856.1" r="11.7"/></clipPath></defs>
<g clip-path="url(#inc)" stroke="#fff" stroke-width="0.7">
<rect x="430" y="844" width="26" height="25" fill="#fff" stroke="none"/>
<rect x="430" y="849" width="14" height="13" fill="#1d3a7c"/>
<rect x="436" y="843.5" width="14" height="6" fill="#3a9e48"/>
<rect x="430" y="843.5" width="6" height="6" fill="#fff" stroke="none"/>
<rect x="450" y="843.5" width="6" height="10" fill="#8d8d8d"/>
<rect x="444" y="853.5" width="12" height="15" fill="#2c6cbf"/>
<rect x="430" y="862" width="14" height="7" fill="#ef7d22"/>
<rect x="437" y="851.5" width="9.5" height="6" fill="#b3c6e6"/>
</g>
<text x="457.6" y="859.6" font-size="12" font-weight="bold" fill="#1f3f87" stroke="#1f3f87" stroke-width="0.3" textLength="52.2" lengthAdjust="spacingAndGlyphs">Internews</text>
<text x="458" y="865.2" font-size="4.3" font-weight="bold" fill="#2d62b8" textLength="51" lengthAdjust="spacingAndGlyphs">Local voices. Global change.</text>
<!-- IMI -->
<defs><linearGradient id="mg" x1="0" y1="0" x2="1" y2="0"><stop offset="0" stop-color="#5e5e5e"/><stop offset="0.5" stop-color="#b0b0b0"/><stop offset="1" stop-color="#5e5e5e"/></linearGradient></defs>
<circle cx="518.4" cy="846.9" r="2.3" fill="#7d7d7d"/>
<circle cx="526.4" cy="846.9" r="2.3" fill="#7d7d7d"/>
<circle cx="534.4" cy="846.9" r="2.3" fill="#7d7d7d"/>
<path d="M515.5,867.3 L515.5,853.2 Q515.5,851.2 517.6,851.2 L520.5,851.2 L526.4,860 L532.3,851.2 L535.4,851.2 Q537.4,851.2 537.4,853.2 L537.4,867.3 L532.6,867.3 L532.6,858.5 L526.4,867.3 L520.3,858.5 L520.3,867.3 Z" fill="url(#mg)"/>
<text transform="translate(547.4,857.9) scale(0.8,1)" font-size="9.4" fill="#6a6a6a" textLength="69.5" lengthAdjust="spacing">Інститут масової</text>
<text transform="translate(547.4,867.2) scale(0.8,1)" font-size="9.4" fill="#6a6a6a" textLength="44.5" lengthAdjust="spacing">інформації</text>
</g>

</svg>
</body></html>
